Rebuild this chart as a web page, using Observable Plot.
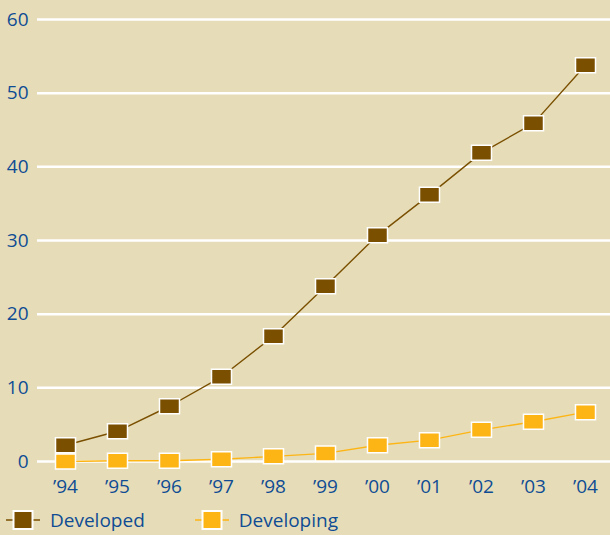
<!DOCTYPE html>
<html>
<head>
<meta charset="utf-8">
<script src="https://cdn.jsdelivr.net/npm/d3@7"></script>
<script src="https://cdn.jsdelivr.net/npm/@observablehq/plot@0.6"></script>
<style>
  html, body { margin: 0; padding: 0; background: #e6ddb8; }
  #chart { width: 610px; height: 535px; overflow: hidden; font-family: "Open Sans", sans-serif; }
  #legend { display: flex; align-items: center; height: 30px; color: #0f4c94; font-size: 19px; font-weight: 500; }
  .item { display: flex; align-items: center; }
</style>
</head>
<body>
<div id="chart"></div>
<script>
const years = ["\u201994","\u201995","\u201996","\u201997","\u201998","\u201999","\u201900","\u201901","\u201902","\u201903","\u201904"];
const developed = [2.2, 4.1, 7.5, 11.5, 17.0, 23.8, 30.7, 36.2, 41.9, 45.9, 53.8];
const developing = [0.0, 0.1, 0.1, 0.3, 0.7, 1.1, 2.2, 2.9, 4.3, 5.4, 6.7];
const seriesNames = ["Developed", "Developing"];
const seriesColors = ["#7a4f00", "#fdb515"];
const yTicks = [0, 10, 20, 30, 40, 50, 60];

const data = [];
years.forEach((yr, i) => {
  data.push({year: yr, value: developed[i], series: seriesNames[0]});
});
years.forEach((yr, i) => {
  data.push({year: yr, value: developing[i], series: seriesNames[1]});
});

const rectSymbol = {
  draw(context, size) {
    const w = 20, h = 15;
    context.moveTo(-w / 2, -h / 2);
    context.lineTo(w / 2, -h / 2);
    context.lineTo(w / 2, h / 2);
    context.lineTo(-w / 2, h / 2);
    context.closePath();
  }
};

const plot = Plot.plot({
  width: 610,
  height: 505,
  marginLeft: 37,
  marginRight: 0,
  marginTop: 19,
  marginBottom: 44,
  style: {background: "transparent", fontFamily: "'Open Sans', sans-serif", fontSize: "19px", fontWeight: 500, color: "#0f4c94", overflow: "visible"},
  x: {type: "point", domain: years, padding: 0, insetLeft: 26, insetRight: 23, label: null},
  y: {domain: [0, 60], label: null},
  color: {domain: seriesNames, range: seriesColors},
  marks: [
    Plot.gridY(yTicks, {stroke: "white", strokeOpacity: 1, strokeWidth: 2.5}),
    Plot.axisY(yTicks, {tickSize: 0, tickPadding: 9, label: null, fill: "#0f4c94"}),
    Plot.axisX({tickSize: 0, tickPadding: 18, label: null, fill: "#0f4c94"}),
    Plot.line(data, {x: "year", y: "value", z: "series", stroke: "series", strokeWidth: 1.4}),
    Plot.dot(data, {x: "year", y: "value", fill: "series", symbol: rectSymbol, r: 5, stroke: "white", strokeWidth: 1.5})
  ]
});
document.getElementById("chart").appendChild(plot);

const legend = document.createElement("div");
legend.id = "legend";
seriesNames.forEach((name, i) => {
  const item = document.createElement("div");
  item.className = "item";
  item.style.marginLeft = i === 0 ? "6px" : "50px";
  item.innerHTML = `<svg width="36" height="24" style="margin-right:8px">
    <line x1="0" x2="34" y1="12" y2="12" stroke="${seriesColors[i]}" stroke-width="1.6"></line>
    <rect x="7.5" y="3" width="19" height="18" fill="${seriesColors[i]}" stroke="white" stroke-width="2"></rect>
  </svg><span>${name}</span>`;
  legend.appendChild(item);
});
document.getElementById("chart").appendChild(legend);
</script>
</body>
</html>
